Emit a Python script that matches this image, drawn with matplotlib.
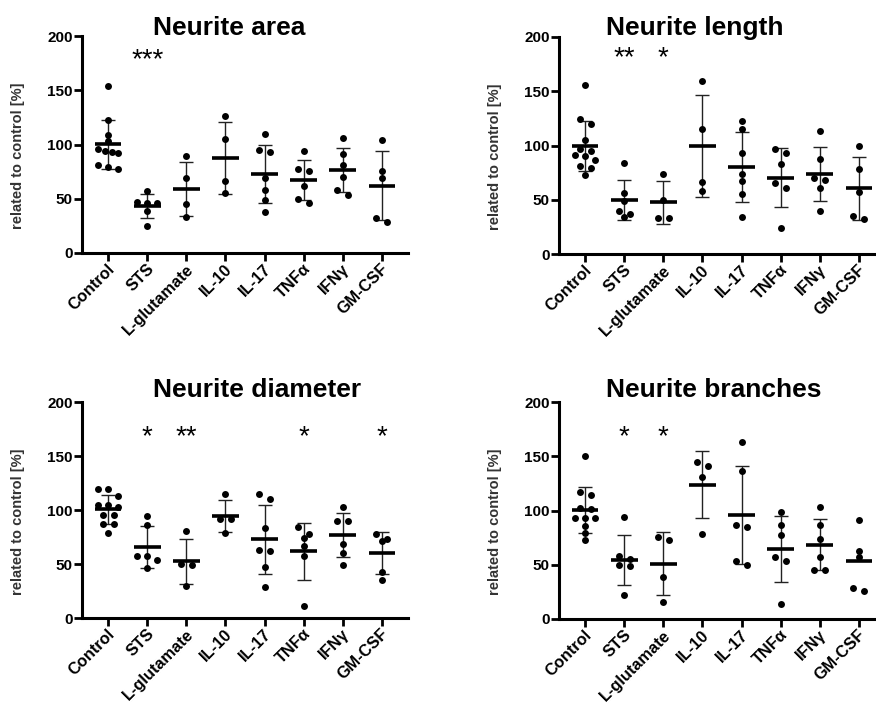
import numpy as np
import matplotlib
matplotlib.use('Agg')
import matplotlib.pyplot as plt
from matplotlib.transforms import ScaledTranslation, offset_copy

plt.rcParams['font.family'] = ['Liberation Sans', 'DejaVu Sans']
plt.rcParams['font.weight'] = 'bold'

# data (% of control)
groups = ['Control', 'STS', 'L-glutamate', 'IL-10', 'IL-17', 'TNFα', 'IFNγ', 'GM-CSF']
titles = ['Neurite area', 'Neurite length', 'Neurite diameter', 'Neurite branches']

area = [
    [154, 123, 109, 103, 96, 92, 94, 93, 77, 81, 79],
    [57, 47, 46, 46, 39, 25],
    [89, 69, 45, 33],
    [126, 105, 66, 55],
    [110, 93, 95, 69, 58, 49, 38],
    [94, 77, 76, 62, 50, 46],
    [106, 91, 81, 70, 58, 53],
    [104, 76, 69, 32, 29],
]
length = [
    [155.5, 124, 119.5, 105, 97, 95, 91, 90, 86.5, 81, 79, 73],
    [84, 56, 49, 40, 36.5, 34],
    [74, 50, 33, 33],
    [159, 115, 66, 58],
    [123, 115, 93, 74, 67, 55, 34],
    [97, 93, 83, 65, 61, 24],
    [113, 88, 70, 68, 61, 40],
    [100, 78, 57, 35, 32],
]
diameter = [
    [119, 119, 113, 105, 103, 105, 95, 95, 87, 87, 79],
    [94, 86, 57, 57, 54, 46],
    [81, 50, 49, 30],
    [115, 92, 92, 79],
    [115, 110, 83, 63, 62, 47, 29],
    [84, 78, 74, 67, 57, 11],
    [102.5, 90, 90, 68.5, 60.5, 49],
    [78, 73, 71, 43, 35],
]
branches = [
    [150, 117, 114, 102, 101, 93, 93, 93, 86, 79, 73],
    [94, 58, 55, 50, 49, 22],
    [76, 73, 39, 16],
    [145, 141, 131, 78],
    [163, 136, 87, 85, 53, 50],
    [99, 87, 77, 57, 53, 14],
    [103, 87, 74, 57, 45, 45],
    [91, 63, 57, 29, 26],
]

stars_area = ['', '***', '', '', '', '', '', '']
stars_length = ['', '**', '*', '', '', '', '', '']
stars_diameter = ['', '*', '**', '', '', '*', '', '*']
stars_branches = ['', '*', '*', '', '', '', '', '']

panels = [area, length, diameter, branches]
stars = [stars_area, stars_length, stars_diameter, stars_branches]

# layout in pixels: left, right, top, bottom
boxes = [(82, 408, 36, 253), (559, 885, 37, 254), (82, 408, 402, 618), (559, 885, 402, 619)]
title_x = [3.1, 2.8, 3.8, 3.3]
title_y = [1.005, 1.008, 1.022, 1.022]
star_level = [185.5, 188.5, 175.5, 175.5]
no_sd = [[], [], [], [7]]


def row_offsets(ypix, band=6.5):
    # group points of similar height into rows and centre each row (Prism-like scatter)
    ypix = np.asarray(ypix)
    order = np.argsort(-ypix)
    offs = np.zeros(len(ypix))
    rows = []
    for idx in order:
        if rows and ypix[rows[-1][0]] - ypix[idx] < band:
            rows[-1].append(idx)
        else:
            rows.append([idx])
    for row in rows:
        n = len(row)
        if n == 1:
            continue
        step = min(11.0, 20.0 / (n - 1))
        for j, idx in enumerate(row):
            offs[idx] = (j - (n - 1) / 2) * step
    return offs


fig = plt.figure(figsize=(8.76, 7.04), dpi=100)
W, H = 876, 704

for k, data in enumerate(panels):
    l, r, t, b = boxes[k]
    ax = fig.add_axes([l / W, 1 - b / H, (r - l) / W, (b - t) / H])
    ax.set_xlim(-0.67, 7.67)
    ax.set_ylim(0, 200)

    p0 = ax.transData.transform((0, 0))
    p1 = ax.transData.transform((1, 1))
    sx, sy = p1 - p0

    for i, vals in enumerate(data):
        vals = np.array(vals, dtype=float)
        m = vals.mean()
        sd = vals.std(ddof=1)
        offs = row_offsets(vals * sy) / sx
        ax.plot(i + offs, vals, 'o', color='black', ms=5, mec='none', zorder=3, clip_on=False)
        ax.hlines(m, i - 0.34, i + 0.34, color='black', lw=2.6, zorder=4)
        if i not in no_sd[k]:
            ax.vlines(i, m - sd, m + sd, color='#222222', lw=1.0, zorder=2)
            ax.hlines([m - sd, m + sd], i - 0.18, i + 0.18, color='#222222', lw=1.0, zorder=2)
        if stars[k][i]:
            tr = offset_copy(ax.transData, fig=fig, y=-0.57 * 20, units='points')
            ax.text(i, star_level[k], stars[k][i], transform=tr, ha='center', va='baseline',
                    fontsize=20, fontweight='normal')

    for s in ['top', 'right']:
        ax.spines[s].set_visible(False)
    for s in ['left', 'bottom']:
        ax.spines[s].set_linewidth(2.2)

    ax.set_yticks([0, 50, 100, 150, 200])
    ax.set_xticks(range(len(groups)))
    ax.set_xticklabels(groups, rotation=45, ha='right', va='top', rotation_mode='anchor')
    ax.tick_params(axis='both', length=5.5, width=2, labelsize=11, pad=1)
    ax.tick_params(axis='x', pad=0.5, labelsize=11.8)
    for lab in ax.get_xticklabels():
        lab.set_transform(lab.get_transform() + ScaledTranslation(-1 / 100, 0, fig.dpi_scale_trans))

    ax.set_ylabel('related to control [%]', fontsize=10.5, fontweight='bold', color='#333333')
    ax.yaxis.set_label_coords(-0.175, 0.447)

    ax.text(title_x[k], title_y[k], titles[k], transform=ax.get_xaxis_transform(),
            ha='center', va='baseline', fontsize=19, fontweight='bold')

fig.savefig('out.png', dpi=100)
